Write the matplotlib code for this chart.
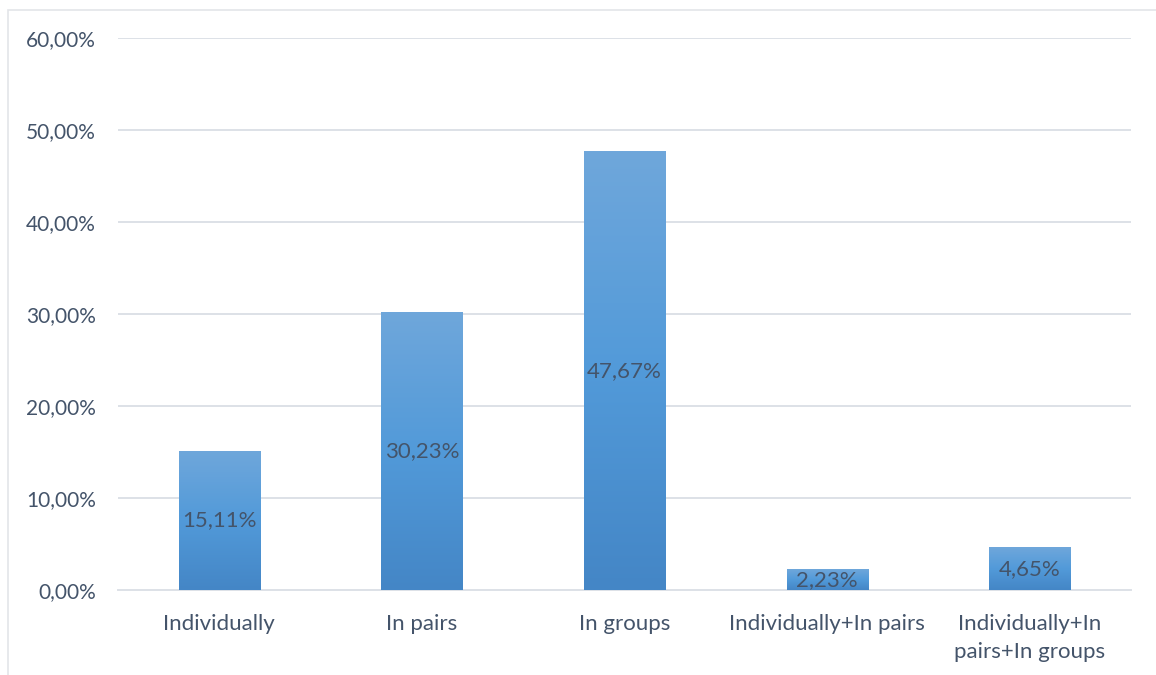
import numpy as np
import matplotlib
matplotlib.use("Agg")
import matplotlib.pyplot as plt
from matplotlib.colors import LinearSegmentedColormap
from matplotlib.patches import Rectangle
from matplotlib.ticker import FuncFormatter, MultipleLocator

plt.rcParams['font.family'] = ['Lato', 'DejaVu Sans']

categories = ["Individually", "In pairs", "In groups",
              "Individually+In pairs", "Individually+In\npairs+In groups"]
values = [15.11, 30.23, 47.67, 2.23, 4.65]

text_color = "#44546A"
grid_color = "#DDE1E7"
bar_cmap = LinearSegmentedColormap.from_list(
    "bar_grad", ["#4486C6", "#529AD9", "#6FA7DB"])

fig = plt.figure(figsize=(11.56, 6.75), dpi=100)
ax = fig.add_axes([118 / 1156, 1 - 590 / 675, (1131 - 118) / 1156, (590 - 38) / 675])

x = np.arange(len(categories))
bars = ax.bar(x, values, width=0.4, color="none", edgecolor="none", zorder=3)

grad = np.linspace(0, 1, 256).reshape(-1, 1)
for b in bars:
    x0, w, h = b.get_x(), b.get_width(), b.get_height()
    im = ax.imshow(grad, cmap=bar_cmap, aspect="auto", origin="lower",
                   extent=[x0, x0 + w, 0, h], zorder=3, interpolation="bilinear")
    im.set_clip_path(b)

for xi, v in zip(x, values):
    ax.text(xi, v / 2, f"{v:.2f}%".replace(".", ","), ha="center", va="center",
            color=text_color, fontsize=16, zorder=4)

ax.set_xlim(-0.5, len(categories) - 0.5)
ax.set_ylim(0, 60)
ax.yaxis.set_major_locator(MultipleLocator(10))
ax.yaxis.set_major_formatter(FuncFormatter(lambda v, p: f"{v:.2f}%".replace(".", ",")))
ax.set_xticks(x)
ax.set_xticklabels(categories, linespacing=1.5)
ax.tick_params(axis="both", length=0, colors=text_color)
ax.tick_params(axis="x", pad=17, labelsize=16)
ax.tick_params(axis="y", pad=16, labelsize=15)
for lbl in ax.get_yticklabels():
    lbl.set_horizontalalignment("right")

ax.grid(axis="y", color=grid_color, linewidth=1.4, zorder=0)
ax.set_axisbelow(True)
for s in ["top", "right", "left"]:
    ax.spines[s].set_visible(False)
ax.spines["bottom"].set_color(grid_color)
ax.spines["bottom"].set_linewidth(1.4)

# chart-area frame
fig.patches.append(Rectangle((8 / 1156, -0.1), 1.2, 1 - 10 / 675 + 0.1,
                             transform=fig.transFigure, fill=False,
                             edgecolor="#E3E5E9", linewidth=1.2))

fig.savefig("out.png", dpi=100, facecolor="white")
